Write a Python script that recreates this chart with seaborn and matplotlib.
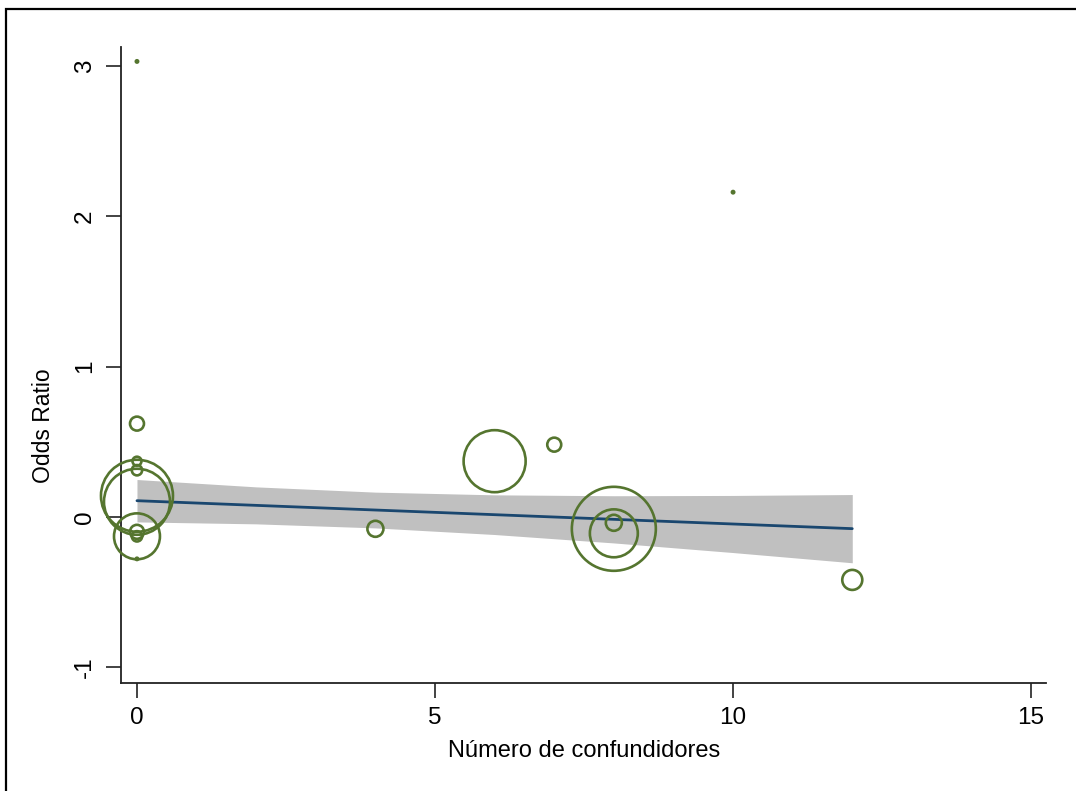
import numpy as np
import pandas as pd
import seaborn as sns
import matplotlib.pyplot as plt
from matplotlib.patches import Rectangle

sns.set_theme(style="white")
plt.rcParams['font.family'] = ['Liberation Sans', 'DejaVu Sans']
plt.rcParams['axes.unicode_minus'] = False

# estudios: numero de confundidores, odds ratio (log), peso (%)
confundidores = [0, 10, 0, 0, 0, 0, 0, 0, 0, 0, 0, 4, 6, 7, 8, 8, 8, 12]
odds_ratio = [3.03, 2.16, 0.62, 0.37, 0.31, 0.14, 0.10, -0.13, -0.10, -0.13,
              -0.28, -0.08, 0.37, 0.48, -0.08, -0.11, -0.04, -0.42]
peso = [0.02, 0.02, 0.73, 0.30, 0.40, 19.4, 16.3, 7.9, 0.73, 0.40,
        0.02, 0.96, 14.4, 0.73, 26.4, 8.6, 0.96, 1.5]

# meta-regresion: prediccion e IC 95%
pred_x = [0, 2, 4, 6, 8, 10, 12]
pred_y = [0.107, 0.076, 0.045, 0.014, -0.017, -0.048, -0.079]
ic_sup = [0.248, 0.199, 0.164, 0.146, 0.140, 0.142, 0.148]
ic_inf = [-0.034, -0.047, -0.074, -0.118, -0.174, -0.238, -0.306]

verde = "#55752f"
azul = "#1a476f"

df = pd.DataFrame({"x": confundidores, "y": odds_ratio, "w": peso})
fit = pd.DataFrame({"x": pred_x, "y": pred_y})

fig = plt.figure(figsize=(10.76, 7.91), dpi=100)
ax = fig.add_axes([121 / 1076, 1 - 683 / 791, 925 / 1076, 636 / 791])

ax.fill_between(pred_x, ic_inf, ic_sup, color="#c0c0c0", linewidth=0, zorder=1)
sns.lineplot(fit, x="x", y="y", color=azul, linewidth=2.0, ax=ax, zorder=2)

sns.scatterplot(df, x="x", y="y", size="w", sizes=(0, 30 * 138.5), size_norm=(0, 30),
                color=verde, legend=False, ax=ax, zorder=3)
pts = ax.collections[-1]
pts.set_facecolor("none")
pts.set_edgecolor(verde)
pts.set_linewidth(1.9)
pts.set_clip_on(False)

ax.set_xlim(-0.268, 15.25)
ax.set_ylim(-1.106, 3.126)
ax.set_xticks([0, 5, 10, 15])
ax.set_yticks([-1, 0, 1, 2, 3])
ax.tick_params(axis="both", which="major", length=11, width=1.2, color="#222222",
               labelsize=17.5, labelcolor="black", bottom=True, left=True)
ax.tick_params(axis="x", pad=6)
ax.tick_params(axis="y", pad=7)
for lab in ax.get_yticklabels():
    lab.set_rotation(90)
    lab.set_va("center")

for s in ["top", "right"]:
    ax.spines[s].set_visible(False)
for s in ["left", "bottom"]:
    ax.spines[s].set_color("#222222")
    ax.spines[s].set_linewidth(1.3)

ax.set_xlabel("Número de confundidores", fontsize=17, color="black")
ax.set_ylabel("Odds Ratio", fontsize=16.5, color="black")
ax.xaxis.set_label_coords(0.501, -0.089)
ax.yaxis.set_label_coords(-0.071, 0.404)

fig.patches.append(Rectangle((6 / 1076, -0.05), 1.2, 1 - 9 / 791 + 0.05,
                             transform=fig.transFigure, fill=False,
                             edgecolor="black", linewidth=1.6))

fig.savefig("out.png", dpi=100)
